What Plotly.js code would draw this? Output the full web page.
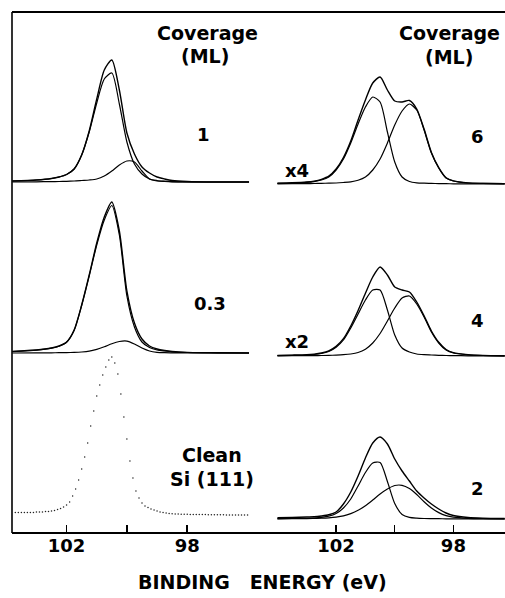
<!DOCTYPE html>
<html><head><meta charset="utf-8">
<script src="https://cdn.plot.ly/plotly-3.0.1.min.js"></script>
<style>html,body{margin:0;padding:0;background:#fff;} #chart{width:505px;height:598px;}</style>
</head><body><div id="chart"></div>
<script>
// ---------- DATA (binding energy in eV, intensity in arbitrary units) ----------
const leftE = [103.8, 103.0, 102.5, 102.25, 102.0, 101.75, 101.5, 101.25, 101.0, 100.75, 100.5, 100.25, 100.0, 99.75, 99.5, 99.25, 99.0, 98.75, 98.5, 98.0, 97.0, 95.95];
// 1 ML
const env1   = [1, 2, 3.5, 5, 7.5, 13, 27, 51, 83, 112, 122, 92, 49, 28, 15, 9, 5, 3, 1.5, 0.5, 0, 0];
const main1  = [1, 2, 3.5, 5, 7.5, 13, 27, 50, 79, 103, 109, 78, 40, 18, 8, 3, 1.5, 0.8, 0.3, 0, 0, 0];
const small1 = [0, 0.2, 0.4, 0.5, 0.7, 1, 1.5, 2, 3, 6, 11, 17, 21, 20, 11, 3, 1, 0.5, 0.2, 0, 0, 0];
// 0.3 ML
const env03   = [1.5, 3, 5, 7, 11, 23, 48, 78, 110, 136, 151, 122, 62, 30, 14, 7, 4, 2.5, 1.5, 0.6, 0.2, 0];
const main03  = [1.5, 2.9, 4.8, 6.8, 10.7, 22.5, 47.5, 77, 108, 133, 147.5, 118, 57, 26, 11, 5.5, 3, 2, 1.2, 0.5, 0.2, 0];
const small03 = [0, 0.1, 0.2, 0.3, 0.4, 0.6, 1, 1.8, 3.6, 6.2, 9.3, 11.5, 11.9, 9, 5, 2, 0.7, 0.3, 0.2, 0.1, 0, 0];
// Clean Si(111) (dotted data)
const cleanE = [103.7, 103.6, 103.5, 103.4, 103.3, 103.2, 103.1, 103.0, 102.9, 102.8, 102.7, 102.6, 102.5, 102.4, 102.3, 102.2, 102.1, 102.0,
  101.9, 101.8, 101.7, 101.6, 101.5, 101.4, 101.3, 101.2, 101.1, 101.0, 100.9, 100.8, 100.7, 100.6, 100.5, 100.4, 100.3, 100.2, 100.1, 100.0,
  99.9, 99.8, 99.7, 99.6, 99.5, 99.4, 99.3, 99.2, 99.1, 99.0, 98.9, 98.8, 98.7, 98.6, 98.5, 98.4, 98.3, 98.2, 98.1, 98.0,
  97.9, 97.8, 97.7, 97.6, 97.5, 97.4, 97.3, 97.2, 97.1, 97.0, 96.9, 96.8, 96.7, 96.6, 96.5, 96.4, 96.3, 96.2, 96.1, 96.0];
const cleanI = [2.5, 2.5, 2.5, 2.5, 2.5, 2.5, 2.5, 3, 3, 3, 3.5, 3.5, 4, 4.5, 5.5, 6.5, 8, 10,
  13, 19, 26, 35, 46, 58, 72, 89, 104, 119, 130, 140, 148, 155, 158, 152, 141, 121, 98, 76,
  54, 37, 24, 17, 12, 9, 7.5, 6, 5, 4, 3, 2.5, 2, 1.5, 1.2, 1, 1, 0.8, 0.8, 0.7,
  0.6, 0.6, 0.5, 0.5, 0.4, 0.4, 0.3, 0.3, 0.3, 0.2, 0.2, 0.2, 0.1, 0.1, 0, 0, 0, 0, 0, 0];

const rightE = [104.0, 103.5, 103.0, 102.75, 102.5, 102.25, 102.0, 101.75, 101.5, 101.25, 101.0, 100.75, 100.5, 100.25, 100.0, 99.75, 99.5, 99.25, 99.0, 98.75, 98.5, 98.25, 98.0, 97.5, 97.0, 96.25];
// 6 ML (x4)
const env6 = [0.8, 1.2, 2, 2.9, 4.7, 7.8, 15, 26.5, 43, 64, 84, 101, 107, 94, 83, 82, 83.5, 75, 55, 31.6, 16.4, 6.3, 3.2, 1.1, 0.6, 0.3];
const c1_6 = [0.6, 0.9, 1.6, 2.4, 4, 7, 14, 25, 41, 60, 77, 87, 82, 52, 22, 7, 2.5, 1.2, 0.8, 0.6, 0.4, 0.3, 0.2, 0.1, 0, 0];
const c2_6 = [0.2, 0.3, 0.4, 0.5, 0.7, 0.8, 1, 1.5, 2.2, 3.8, 7, 14, 25, 41, 59, 73, 80, 74, 54, 31, 16, 6, 3, 1, 0.6, 0.3];
// 4 ML (x2)
const env4 = [0.6, 0.9, 1.3, 1.9, 3, 5.1, 9.6, 17.3, 30, 45.5, 62.8, 79, 89, 81, 69, 66, 64, 54, 40.3, 25, 13.7, 6.5, 3.4, 1.4, 0.6, 0.2];
const c1_4 = [0.4, 0.6, 1, 1.5, 2.5, 4.5, 8.7, 16, 28, 42, 56, 66, 66, 46, 21, 8, 4, 2, 1.3, 1, 0.7, 0.5, 0.4, 0.2, 0.1, 0];
const c2_4 = [0.2, 0.3, 0.3, 0.4, 0.5, 0.6, 0.9, 1.3, 2, 3.5, 6.8, 13, 22.5, 35, 48, 58, 60, 52, 39, 24, 13, 6, 3, 1.2, 0.5, 0.2];
// 2 ML
const env2 = [1.2, 1.5, 2, 2.2, 3, 4.2, 7, 15, 27, 43, 61, 76, 82, 75, 60, 48, 38, 28, 21, 15, 10, 6, 3.5, 1.5, 0.8, 0.5];
const c1_2 = [0.3, 0.5, 0.7, 1, 1.6, 2.8, 5.5, 11, 20, 33, 46.5, 56, 56.5, 37.5, 15.5, 4.5, 1.6, 0.8, 0.5, 0.4, 0.3, 0.2, 0.2, 0.1, 0, 0];
const c2_2 = [0.2, 0.3, 0.4, 0.6, 0.8, 1.2, 1.9, 3.1, 5.4, 8.7, 13.3, 19, 25, 30, 33.5, 33.7, 30.5, 24.5, 17.3, 11, 6.4, 3.4, 1.9, 0.7, 0.3, 0.2];

const tickVals = [102, 100, 98];
const tickText = ['102', '', '98'];

// ---------- FIGURE ----------
const W = 505, H = 598, ML = 12, MT = 12, MB = 65;
const plotW = W - ML, plotH = H - MT - MB;
const FONT = 'DejaVu Sans, Verdana, sans-serif';
const px = p => (p - ML) / plotW;
const py = p => (H - MB - p) / plotH;
const yr = base => [base - (H - MB), base - MT];

function ln(x, y, xa, ya, w) {
  return {x: x, y: y, xaxis: xa, yaxis: ya, type: 'scatter', mode: 'lines',
    line: {color: '#000', width: w || 1.2, shape: 'spline', smoothing: 0.7},
    hoverinfo: 'skip', showlegend: false};
}
const traces = [
  ln(leftE, small1, 'x', 'y'), ln(leftE, main1, 'x', 'y'), ln(leftE, env1, 'x', 'y', 1.4),
  ln(leftE, small03, 'x', 'y2'), ln(leftE, main03, 'x', 'y2'), ln(leftE, env03, 'x', 'y2', 1.4),
  {x: cleanE, y: cleanI, xaxis: 'x', yaxis: 'y3', type: 'scatter', mode: 'markers',
   marker: {color: '#222', size: 1.5}, hoverinfo: 'skip', showlegend: false},
  ln(rightE, c1_6, 'x2', 'y4'), ln(rightE, c2_6, 'x2', 'y4'), ln(rightE, env6, 'x2', 'y4', 1.4),
  ln(rightE, c1_4, 'x2', 'y5'), ln(rightE, c2_4, 'x2', 'y5'), ln(rightE, env4, 'x2', 'y5', 1.4),
  ln(rightE, c1_2, 'x2', 'y6'), ln(rightE, c2_2, 'x2', 'y6'), ln(rightE, env2, 'x2', 'y6', 1.4)
];

const tf = {family: FONT, size: 18, color: '#000', weight: 'bold'};
const xCommon = {showgrid: false, zeroline: false, showline: false, ticks: 'inside', ticklen: 8,
  tickwidth: 1.5, tickcolor: '#000', tickvals: tickVals, ticktext: tickText, tickfont: tf, fixedrange: true};
const yCommon = {visible: false, showgrid: false, zeroline: false, fixedrange: true, domain: [0, 1]};

function ann(text, x, y, size, xanchor) {
  return {text: text, x: px(x), y: py(y), xref: 'paper', yref: 'paper', showarrow: false,
    xanchor: xanchor || 'center', yanchor: 'middle', font: {family: FONT, size: size, color: '#000', weight: 'bold'}};
}

const layout = {
  width: W, height: H, margin: {l: ML, r: 0, t: MT, b: MB, pad: 0},
  paper_bgcolor: '#fff', plot_bgcolor: 'rgba(0,0,0,0)', showlegend: false,
  xaxis:  Object.assign({}, xCommon, {domain: [0, 0.49], range: [103.81, 95.80], anchor: 'y'}),
  xaxis2: Object.assign({}, xCommon, {domain: [0.52, 1], range: [104.31, 96.24], anchor: 'y4'}),
  yaxis:  Object.assign({}, yCommon, {range: yr(182), anchor: 'x'}),
  yaxis2: Object.assign({}, yCommon, {range: yr(353), anchor: 'x', overlaying: 'y'}),
  yaxis3: Object.assign({}, yCommon, {range: yr(515), anchor: 'x', overlaying: 'y'}),
  yaxis4: Object.assign({}, yCommon, {range: yr(184), anchor: 'x2'}),
  yaxis5: Object.assign({}, yCommon, {range: yr(356), anchor: 'x2', overlaying: 'y4'}),
  yaxis6: Object.assign({}, yCommon, {range: yr(519), anchor: 'x2', overlaying: 'y4'}),
  shapes: [
    {type: 'line', xref: 'paper', yref: 'paper', x0: 0, x1: 1, y0: 1, y1: 1, line: {color: '#000', width: 2}, layer: 'above'},
    {type: 'line', xref: 'paper', yref: 'paper', x0: 0, x1: 1, y0: 0, y1: 0, line: {color: '#000', width: 2}, layer: 'above'},
    {type: 'line', xref: 'paper', yref: 'paper', x0: 0, x1: 0, y0: 0, y1: 1, line: {color: '#000', width: 1.6}, layer: 'above'}
  ],
  annotations: [
    ann('Coverage', 207.5, 33, 19),
    ann('(ML)', 205, 56, 19),
    ann('Coverage', 502, 33, 19, 'right'),
    ann('(ML)', 449, 57, 19),
    ann('1', 203, 134.5, 18),
    ann('0.3', 210, 303.5, 18),
    ann('Clean', 212, 454.5, 19),
    ann('Si (111)', 212, 478.5, 19),
    ann('6', 477, 136.5, 18),
    ann('x4', 297, 170, 18),
    ann('4', 477, 320, 18),
    ann('x2', 297, 341, 18),
    ann('2', 477, 488.5, 18),
    ann('BINDING&nbsp;&nbsp;&nbsp;ENERGY (eV)', 262.5, 582, 19)
  ]
};

Plotly.newPlot('chart', traces, layout, {staticPlot: true, displayModeBar: false});
</script>
</body></html>
